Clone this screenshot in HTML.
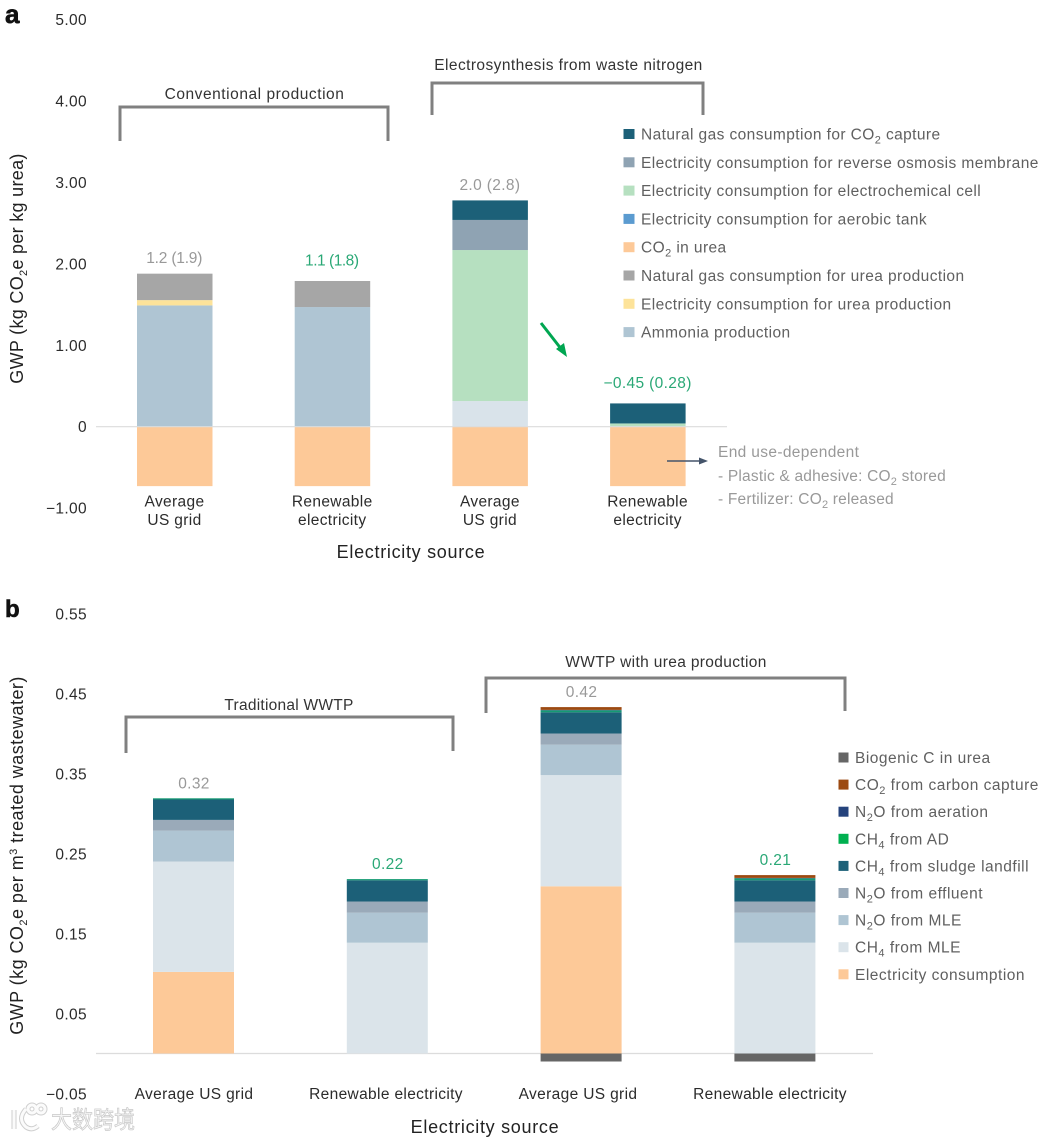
<!DOCTYPE html>
<html lang="en">
<head>
<meta charset="utf-8">
<title>GWP of urea production and wastewater treatment</title>
<style>
html,body{margin:0;padding:0;background:#fff;}
svg{display:block;}
text{font-family:"Liberation Sans","Noto Sans CJK SC",sans-serif;font-size:15.5px;letter-spacing:.35px;fill:#2b2b2b;}
.ann{fill:#333;}
.gray{fill:#999;}
.note{letter-spacing:.2px;}
.leg-a{fill:#606060;letter-spacing:.41px;}
.leg-b{fill:#606060;letter-spacing:.5px;}
.title{font-size:18px;letter-spacing:.45px;fill:#222;}
.panel{font-weight:bold;fill:#111;stroke:#111;stroke-width:.6px;letter-spacing:0;}
.wm{font-size:24px;fill:#f6f6f6;stroke:#c8c8c8;stroke-width:.7px;letter-spacing:0;}
.bracket{fill:none;stroke:#808080;stroke-width:3;}
</style>
</head>
<body>
<svg id="fig" width="1039" height="1138" viewBox="0 0 1039 1138" xmlns="http://www.w3.org/2000/svg">
  <text class="panel" x="5" y="23" style="font-size:26px">a</text>
  <text class="panel" x="5" y="617" style="font-size:24px">b</text>

  <text class="title" transform="translate(23,268.5) rotate(-90)" text-anchor="middle" style="letter-spacing:.3px">GWP (kg CO<tspan dy="4" font-size="11">2</tspan><tspan dy="-4">e per kg urea)</tspan></text>
  <text class="title" transform="translate(23,855.5) rotate(-90)" text-anchor="middle">GWP (kg CO<tspan dy="4" font-size="11">2</tspan><tspan dy="-4">e per m</tspan><tspan dy="-6" font-size="11">3</tspan><tspan dy="6"> treated wastewater)</tspan></text>

  <text class="title" x="411" y="558" text-anchor="middle" style="letter-spacing:.7px">Electricity source</text>
  <text class="title" x="485" y="1133" text-anchor="middle" style="letter-spacing:.7px">Electricity source</text>

  <polyline class="bracket" points="120,141 120,107 388,107 388,141"/>
  <text class="ann" x="254.5" y="99" text-anchor="middle" style="letter-spacing:.55px">Conventional production</text>
  <polyline class="bracket" points="432,115 432,83 703,83 703,115"/>
  <text class="ann" x="568.5" y="70" text-anchor="middle" style="letter-spacing:.42px">Electrosynthesis from waste nitrogen</text>
  <polyline class="bracket" points="126,753 126,717 453,717 453,751"/>
  <text class="ann" x="289" y="710" text-anchor="middle" style="letter-spacing:.25px">Traditional WWTP</text>
  <polyline class="bracket" points="486,713 486,678 845,678 845,711"/>
  <text class="ann" x="666" y="667" text-anchor="middle">WWTP with urea production</text>

  <g id="plotA"></g>
  <g id="plotB"></g>

  <g>
    <line x1="541" y1="323" x2="562" y2="350" stroke="#00a651" stroke-width="3"/>
    <polygon points="567,357 556,349 564,343" fill="#00a651"/>
  </g>
  <g>
    <line x1="667" y1="461" x2="702" y2="461" stroke="#44546a" stroke-width="1.5"/>
    <polygon points="708,461 699,457.5 699,464.5" fill="#44546a"/>
  </g>
  <text class="gray" x="718" y="457">End use-dependent</text>
  <text class="gray note" x="718" y="481">- Plastic &amp; adhesive: CO<tspan dy="4" font-size="11">2</tspan><tspan dy="-4"> stored</tspan></text>
  <text class="gray note" x="718" y="504">- Fertilizer: CO<tspan dy="4" font-size="11">2</tspan><tspan dy="-4"> released</tspan></text>

  <g>
    <g fill="none" stroke="#cfcfcf" stroke-width="5">
      <path d="M14 1110 L14 1129 M26 1109 Q17 1119 26 1127 Q32 1131 38 1126"/>
      <circle cx="32" cy="1109" r="4"/>
      <circle cx="41" cy="1109" r="4"/>
    </g>
    <g fill="none" stroke="#fbfbfb" stroke-width="3">
      <path d="M14 1110 L14 1129 M26 1109 Q17 1119 26 1127 Q32 1131 38 1126"/>
      <circle cx="32" cy="1109" r="4"/>
      <circle cx="41" cy="1109" r="4"/>
    </g>
    <text class="wm" x="51" y="1128" textLength="84" lengthAdjust="spacingAndGlyphs">大数跨境</text>
  </g>
</svg>

<script>
// ---- Panel a data ----
const aCategories = [["Average", "US grid"], ["Renewable", "electricity"], ["Average", "US grid"], ["Renewable", "electricity"]];
const aTicks = [5, 4, 3, 2, 1, 0, -1];
const aTickLabels = ["5.00", "4.00", "3.00", "2.00", "1.00", "0", "\u22121.00"];
const aCo2InUrea = [-0.73, -0.73, -0.73, -0.73];
const aAmmonia = [1.49, 1.47, 0, 0];
const aElecUrea = [0.065, 0, 0, 0];
const aGasUrea = [0.325, 0.32, 0, 0];
const aAerobicBase = [0, 0, 0.315, 0];
const aElecCell = [0, 0, 1.855, 0.04];
const aElecMembrane = [0, 0, 0.37, 0];
const aGasCapture = [0, 0, 0.24, 0.246];
const aValueLabels = ["1.2 (1.9)", "1.1 (1.8)", "2.0 (2.8)", "\u22120.45 (0.28)"];
const aValueGreen = [false, true, false, true];
const aLegendNames = ["Natural gas consumption for CO_2 capture", "Electricity consumption for reverse osmosis membrane", "Electricity consumption for electrochemical cell", "Electricity consumption for aerobic tank", "CO_2 in urea", "Natural gas consumption for urea production", "Electricity consumption for urea production", "Ammonia production"];

// ---- Panel b data ----
const bCategories = ["Average US grid", "Renewable electricity", "Average US grid", "Renewable electricity"];
const bTicks = [0.55, 0.45, 0.35, 0.25, 0.15, 0.05, -0.05];
const bTickLabels = ["0.55", "0.45", "0.35", "0.25", "0.15", "0.05", "\u22120.05"];
const bBiogenic = [0, 0, -0.01, -0.01];
const bElectricity = [0.102, 0, 0.209, 0];
const bCh4Mle = [0.138, 0.1385, 0.139, 0.1385];
const bN2oMle = [0.0385, 0.0375, 0.038, 0.0375];
const bN2oEffluent = [0.0135, 0.014, 0.014, 0.014];
const bCh4Landfill = [0.0255, 0.0265, 0.0265, 0.0265];
const bCh4Ad = [0.0015, 0.0015, 0.0025, 0.0025];
const bN2oAeration = [0, 0, 0.0005, 0.0005];
const bCo2Capture = [0, 0, 0.0035, 0.0035];
const bValueLabels = ["0.32", "0.22", "0.42", "0.21"];
const bValueGreen = [false, true, false, true];
const bLegendNames = ["Biogenic C in urea", "CO_2 from carbon capture", "N_2O from aeration", "CH_4 from AD", "CH_4 from sludge landfill", "N_2O from effluent", "N_2O from MLE", "CH_4 from MLE", "Electricity consumption"];

const SVGNS = "http://www.w3.org/2000/svg";
const plotA = document.getElementById("plotA");
const plotB = document.getElementById("plotB");

function yA(v) { return 426.7 - v * 81.4; }
function yB(v) { return 1053.5 - v * 800; }
function xA(i) { return 137 + i * 157.7; }
function xB(i) { return 153 + i * 193.8; }
function xLabelB(i) { return 194 + i * 192; }

function make(parent, tag, attrs) {
  const el = document.createElementNS(SVGNS, tag);
  for (const k in attrs) el.setAttribute(k, attrs[k]);
  parent.appendChild(el);
  return el;
}

function fillText(el, str) {
  const parts = str.split(/_(\d)/);
  parts.forEach(function (p, i) {
    const t = document.createElementNS(SVGNS, "tspan");
    t.textContent = p;
    if (i % 2 === 1) { t.setAttribute("dy", "4"); t.setAttribute("font-size", "11"); }
    else if (i > 0) { t.setAttribute("dy", "-4"); }
    el.appendChild(t);
  });
}

// The reference face has a narrow figure 1; shrink strings containing it accordingly.
function tightenOnes(el) {
  const ones = (el.textContent.match(/1/g) || []).length;
  if (ones > 0) {
    const w = el.getComputedTextLength();
    el.setAttribute("textLength", (w - ones * 2.2).toFixed(1));
    el.setAttribute("lengthAdjust", "spacing");
  }
}

function drawStack(parent, stack, negative, xFn, yFn, barWidth, n) {
  for (let i = 0; i < n; i++) {
    let base = 0;
    stack.forEach(function (s) {
      const v = s.values[i];
      if (v > 0) {
        const r = make(parent, "rect", { x: xFn(i), y: yFn(base + v), width: barWidth, height: yFn(base) - yFn(base + v), fill: s.color });
        
        
      }
      base += v;
    });
    if (negative.values[i] < 0) {
      const r = make(parent, "rect", { x: xFn(i), y: yFn(0), width: barWidth, height: yFn(negative.values[i]) - yFn(0), fill: negative.color });
      
      
    }
  }
}

function stackTop(stack, i) {
  return stack.reduce(function (sum, s) { return sum + s.values[i]; }, 0);
}

// ---- Panel a ----
const aStack = [
  { values: aAmmonia, color: "#afc5d3" },
  { values: aElecUrea, color: "#fde39a" },
  { values: aGasUrea, color: "#a6a6a6" },
  { values: aAerobicBase, color: "#d9e3ea" },
  { values: aElecCell, color: "#b6e0c0" },
  { values: aElecMembrane, color: "#8fa3b3" },
  { values: aGasCapture, color: "#1c6078" }
];
const aNeg = { values: aCo2InUrea, color: "#fdc998" };
const aLegendColors = ["#1c6078", "#8fa3b3", "#b6e0c0", "#5b9bd0", "#fdc998", "#a6a6a6", "#fde39a", "#afc5d3"];

aTicks.forEach(function (t, i) {
  const el = make(plotA, "text", { x: 87, y: yA(t) + 5.5, "text-anchor": "end" });
  el.textContent = aTickLabels[i];
  
  
});
drawStack(plotA, aStack, aNeg, xA, yA, 75.5, aCategories.length);
const zeroA = make(plotA, "line", { x1: 96, x2: 727, y1: yA(0), y2: yA(0), stroke: "#dcdcdc", "stroke-width": 1.2 });


aCategories.forEach(function (c, i) {
  c.forEach(function (line, j) {
    const el = make(plotA, "text", { x: xA(i) + 37.5, y: 506.5 + j * 18.5, "text-anchor": "middle" });
    el.textContent = line;
    
    
  });
  const lift = aValueGreen[i] ? 15.5 : 10.5;
  const v = make(plotA, "text", { x: xA(i) + 37.5, y: yA(stackTop(aStack, i)) - lift, "text-anchor": "middle", style: "fill:" + (aValueGreen[i] ? "#2aa876" : "#999") });
  v.textContent = aValueLabels[i];
  tightenOnes(v);
  
  
});
aLegendNames.forEach(function (name, i) {
  const row = 134 + i * 28.3;
  const m = make(plotA, "rect", { x: 623.5, y: row - 5, width: 11, height: 10, fill: aLegendColors[i] });
  
  
  const t = make(plotA, "text", { x: 641, y: row + 5.5, class: "leg-a" });
  fillText(t, name);
  
  
});

// ---- Panel b ----
const bStack = [
  { values: bElectricity, color: "#fdc998" },
  { values: bCh4Mle, color: "#dbe4ea" },
  { values: bN2oMle, color: "#afc5d3" },
  { values: bN2oEffluent, color: "#9aaab9" },
  { values: bCh4Landfill, color: "#1c6078" },
  { values: bCh4Ad, color: "#159a72" },
  { values: bN2oAeration, color: "#25437c" },
  { values: bCo2Capture, color: "#9c4a12" }
];
const bNeg = { values: bBiogenic, color: "#666666" };
const bLegendColors = ["#666666", "#9c4a12", "#25437c", "#00b050", "#1c6078", "#9aaab9", "#afc5d3", "#dbe4ea", "#fdc998"];

bTicks.forEach(function (t, i) {
  const el = make(plotB, "text", { x: 87, y: yB(t) + 6, "text-anchor": "end" });
  el.textContent = bTickLabels[i];
  
  
});
const zeroB = make(plotB, "line", { x1: 96, x2: 873, y1: yB(0), y2: yB(0), stroke: "#dcdcdc", "stroke-width": 1.2 });


drawStack(plotB, bStack, bNeg, xB, yB, 81, bCategories.length);
bCategories.forEach(function (c, i) {
  const el = make(plotB, "text", { x: xLabelB(i), y: 1099, "text-anchor": "middle" });
  el.textContent = c;
  
  
  const v = make(plotB, "text", { x: xB(i) + 41, y: yB(stackTop(bStack, i)) - 10, "text-anchor": "middle", style: "fill:" + (bValueGreen[i] ? "#2aa876" : "#999") });
  v.textContent = bValueLabels[i];
  
  
});
bLegendNames.forEach(function (name, i) {
  const row = 757.5 + i * 27.1;
  const m = make(plotB, "rect", { x: 838.5, y: row - 5, width: 10, height: 10, fill: bLegendColors[i] });
  
  
  const t = make(plotB, "text", { x: 855, y: row + 5.5, class: "leg-b" });
  fillText(t, name);
  
  
});
</script>
</body>
</html>
